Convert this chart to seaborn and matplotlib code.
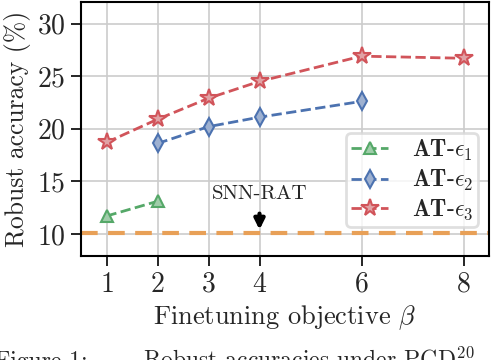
import matplotlib
matplotlib.use('Agg')
import matplotlib.pyplot as plt
import pandas as pd
import seaborn as sns

# values
beta_eps1 = [1, 2]
acc_eps1 = [11.7, 13.1]
beta_eps2 = [2, 3, 4, 6]
acc_eps2 = [18.6, 20.2, 21.1, 22.6]
beta_eps3 = [1, 2, 3, 4, 6, 8]
acc_eps3 = [18.7, 20.9, 22.9, 24.5, 26.9, 26.7]
snn_rat = 10.1
xticks = [1, 2, 3, 4, 6, 8]
yticks = [10, 15, 20, 25, 30]


def main():
    sns.set_theme(style='whitegrid')
    plt.rcParams['font.family'] = ['cmr10', 'DejaVu Serif']
    plt.rcParams['mathtext.fontset'] = 'cm'
    plt.rcParams['axes.formatter.use_mathtext'] = True
    plt.rcParams['axes.unicode_minus'] = False

    fig = plt.figure(figsize=(4.94, 3.6), dpi=100)
    ax = fig.add_axes([81 / 494, 104 / 360, 408 / 494, 254 / 360])

    series = [
        (beta_eps1, acc_eps1, r'$\mathbf{AT}$-$\epsilon_1$', '#55a868', '^', 9),
        (beta_eps2, acc_eps2, r'$\mathbf{AT}$-$\epsilon_2$', '#4c72b0', 'd', 9),
        (beta_eps3, acc_eps3, r'$\mathbf{AT}$-$\epsilon_3$', '#d1545a', '*', 13),
    ]
    for xs, ys, label, color, marker, ms in series:
        df = pd.DataFrame({'beta': xs, 'acc': ys})
        sns.lineplot(data=df, x='beta', y='acc', ax=ax, color=color, label=label,
                     marker=marker, markersize=ms, linestyle='--', linewidth=2,
                     markeredgecolor=color, markeredgewidth=1.5,
                     markerfacecolor=sns.light_palette(color, 5)[2])

    ax.axhline(snn_rat, color='#e8a057', linestyle='--', linewidth=3, dashes=(4, 2.5), zorder=1)
    ax.annotate('SNN-RAT', xy=(4, snn_rat + 0.3), xytext=(4, 12.9),
                ha='center', va='bottom', fontsize=15,
                arrowprops=dict(arrowstyle='-|>', color='black', lw=3, mutation_scale=15,
                                shrinkA=5, shrinkB=0))

    ax.set_xlim(0.5, 8.5)
    ax.set_ylim(7.9, 32.05)
    ax.set_xticks(xticks)
    ax.set_yticks(yticks)
    ax.tick_params(axis='both', labelsize=20, length=7, width=1.2, color='black',
                   bottom=True, left=True, direction='out', pad=4)
    ax.set_xlabel(r'Finetuning objective $\beta$', fontsize=19, labelpad=4)
    ax.set_ylabel(r'Robust accuracy (%)', fontsize=18.5, labelpad=4)
    for s in ax.spines.values():
        s.set_edgecolor('black')
        s.set_linewidth(1.5)
    ax.grid(color='#cccccc', linewidth=1.2)

    leg = ax.legend(loc='lower right', bbox_to_anchor=(0.973, 0.114), borderaxespad=0,
                    fontsize=17, frameon=True, fancybox=True, borderpad=0.2,
                    handlelength=1.6, labelspacing=0.22, handletextpad=1.0)
    leg.get_frame().set_edgecolor('#d8d8d8')
    leg.get_frame().set_linewidth(2)

    fig.text(-0.01, -0.035, 'Figure 1:', fontsize=17, va='bottom')
    fig.text(0.29, -0.035, r'Robust accuracies under PGD$^{20}$', fontsize=17, va='bottom')

    plt.savefig('out.png', dpi=100)


if __name__ == '__main__':
    main()
